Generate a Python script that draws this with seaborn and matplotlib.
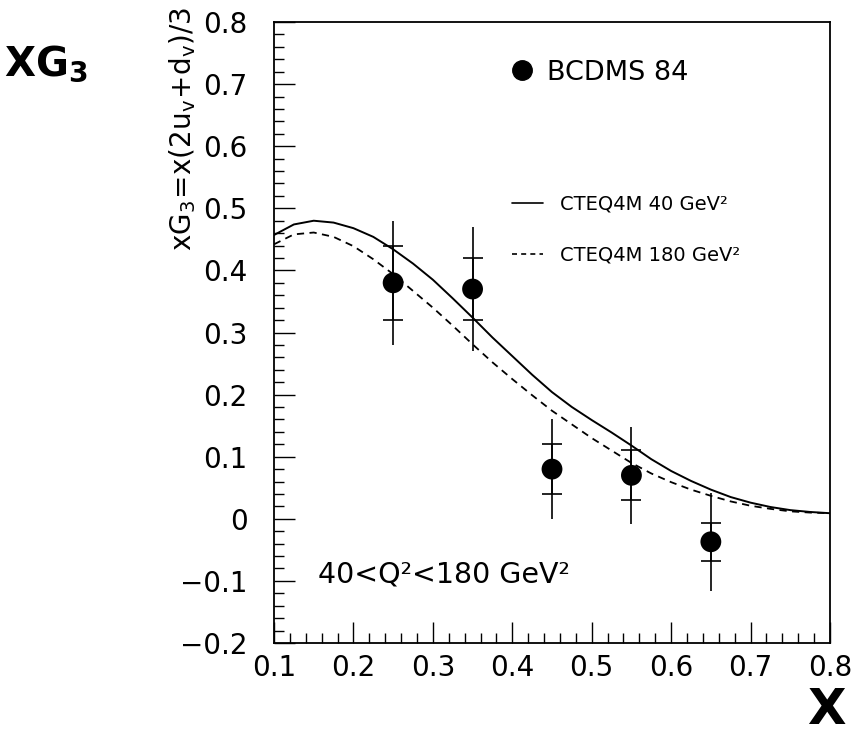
import matplotlib
matplotlib.use("Agg")
import matplotlib.pyplot as plt
import seaborn as sns
from matplotlib.ticker import MultipleLocator, FixedLocator, FixedFormatter
from matplotlib.lines import Line2D

# ---- BCDMS 84 points (value, stat error, total error) ----
bcdms_x = [0.25, 0.35, 0.45, 0.55, 0.65]
bcdms_y = [0.38, 0.37, 0.08, 0.07, -0.037]
bcdms_stat = [0.06, 0.05, 0.04, 0.04, 0.031]
bcdms_tot = [0.10, 0.10, 0.08, 0.078, 0.079]

# ---- CTEQ4M curves ----
curve_x = [0.100, 0.125, 0.150, 0.175, 0.200, 0.225, 0.250, 0.275, 0.300, 0.325,
           0.350, 0.375, 0.400, 0.425, 0.450, 0.475, 0.500, 0.525, 0.550, 0.575,
           0.600, 0.625, 0.650, 0.675, 0.700, 0.725, 0.750, 0.775, 0.800]
cteq_40 = [0.457, 0.474, 0.480, 0.477, 0.468, 0.454, 0.434, 0.411, 0.385, 0.355,
           0.324, 0.292, 0.262, 0.232, 0.204, 0.180, 0.159, 0.139, 0.118, 0.096,
           0.077, 0.061, 0.047, 0.035, 0.026, 0.019, 0.014, 0.011, 0.009]
cteq_180 = [0.442, 0.458, 0.461, 0.454, 0.439, 0.418, 0.394, 0.367, 0.340, 0.311,
            0.281, 0.252, 0.225, 0.199, 0.174, 0.152, 0.130, 0.110, 0.090, 0.073,
            0.059, 0.047, 0.037, 0.028, 0.021, 0.016, 0.012, 0.010, 0.009]

x_ticks = [0.1, 0.2, 0.3, 0.4, 0.5, 0.6, 0.7, 0.8]
x_ticklabels = ["0.1", "0.2", "0.3", "0.4", "0.5", "0.6", "0.7", "0.8"]
y_ticks = [-0.2, -0.1, 0.0, 0.1, 0.2, 0.3, 0.4, 0.5, 0.6, 0.7, 0.8]
y_ticklabels = ["\u22120.2", "\u22120.1", "0", "0.1", "0.2", "0.3", "0.4",
                "0.5", "0.6", "0.7", "0.8"]

sns.set_theme(style="ticks")
plt.rcParams["font.family"] = ["DejaVu Sans"]
plt.rcParams["text.color"] = "black"
plt.rcParams["xtick.color"] = "black"
plt.rcParams["ytick.color"] = "black"
plt.rcParams["xtick.labelcolor"] = "black"
plt.rcParams["ytick.labelcolor"] = "black"

fig = plt.figure(figsize=(8.54, 7.33), dpi=100)
ax = fig.add_axes([274 / 854, 1 - 643 / 733, 556 / 854, 621 / 733])
ax.set_facecolor("white")

sns.lineplot(x=curve_x, y=cteq_40, ax=ax, color="black", lw=1.4)
sns.lineplot(x=curve_x, y=cteq_180, ax=ax, color="black", lw=1.3,
             linestyle=(0, (4, 3)))

# total errors (plain line) then stat errors (with crossbars)
ax.errorbar(bcdms_x, bcdms_y, yerr=bcdms_tot, fmt="none", ecolor="black",
            elinewidth=1.2, capsize=0, zorder=3)
ax.errorbar(bcdms_x, bcdms_y, yerr=bcdms_stat, fmt="none", ecolor="black",
            elinewidth=1.2, capsize=7.5, capthick=1.2, zorder=3)
sns.scatterplot(x=bcdms_x, y=bcdms_y, ax=ax, color="black", s=225,
                edgecolor="none", zorder=4)

ax.set_xlim(0.1, 0.8)
ax.set_ylim(-0.2, 0.8)
ax.xaxis.set_major_locator(FixedLocator(x_ticks))
ax.xaxis.set_major_formatter(FixedFormatter(x_ticklabels))
ax.yaxis.set_major_locator(FixedLocator(y_ticks))
ax.yaxis.set_major_formatter(FixedFormatter(y_ticklabels))
ax.xaxis.set_minor_locator(MultipleLocator(0.02))
ax.yaxis.set_minor_locator(MultipleLocator(0.02))
ax.tick_params(which="both", direction="in", color="black", width=1.0,
               top=False, right=False, labelcolor="black")
ax.tick_params(which="major", length=15)
ax.tick_params(which="minor", length=7)
ax.tick_params(axis="y", which="major", pad=19, labelsize=20)
ax.tick_params(axis="x", which="major", pad=8, labelsize=20)
for s in ax.spines.values():
    s.set_visible(True)
    s.set_color("black")
    s.set_linewidth(1.3)
ax.set_xlabel("")
ax.set_ylabel("")

# legends
h_pts = Line2D([], [], marker="o", ls="none", color="black", markersize=14)
leg1 = ax.legend([h_pts], ["BCDMS 84"], loc="center left",
                 bbox_to_anchor=(0.421, 0.918), frameon=False, fontsize=19.5,
                 handlelength=1.0, handletextpad=0.42, borderpad=0,
                 borderaxespad=0, numpoints=1, labelcolor="black")
ax.add_artist(leg1)
h_40 = Line2D([], [], color="black", lw=1.2)
h_180 = Line2D([], [], color="black", lw=1.2, ls=(0, (3, 2.5)))
ax.legend([h_40, h_180], ["CTEQ4M 40 GeV\u00b2", "CTEQ4M 180 GeV\u00b2"],
          loc="center left", bbox_to_anchor=(0.428, 0.666), frameon=False,
          fontsize=14, handlelength=1.6, handletextpad=0.88, borderpad=0,
          borderaxespad=0, labelspacing=1.65, labelcolor="black")

ax.text(0.079, 0.11, "40<Q\u00b2<180 GeV\u00b2", transform=ax.transAxes,
        fontsize=20.5, ha="left", va="center", color="black")

# axis titles
fig.text(183 / 854, 1 - 7 / 733,
         r"$\mathregular{xG_3\!=\!x(2u_v\!+\!d_v)/3}$",
         rotation=90, ha="center", va="top", fontsize=20, color="black")
fig.text(46 / 854, 1 - 64 / 733, r"$\mathbf{XG_3}$", ha="center", va="center",
         fontsize=29, color="black")
fig.text(826 / 854, 1 - 710 / 733, "X", ha="center", va="center",
         fontsize=36, fontweight="bold", color="black")

fig.savefig("out.png", dpi=100, facecolor="white")
